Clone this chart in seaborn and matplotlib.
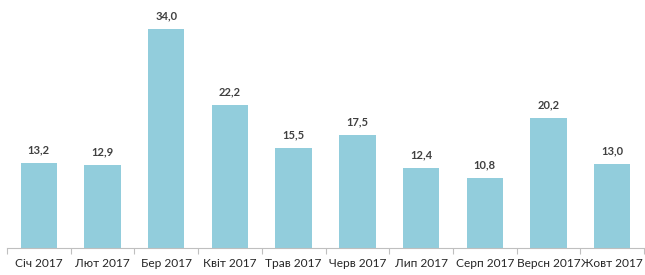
import matplotlib
matplotlib.use("Agg")
import matplotlib.pyplot as plt
import seaborn as sns
import pandas as pd
import numpy as np

categories = ["Січ 2017", "Лют 2017", "Бер 2017", "Квіт 2017", "Трав 2017",
              "Черв 2017", "Лип 2017", "Серп 2017", "Версн 2017", "Жовт 2017"]
values = [13.2, 12.9, 34.0, 22.2, 15.5, 17.5, 12.4, 10.8, 20.2, 13.0]

sns.set_theme(style="white")
plt.rcParams['font.family'] = ['Lato', 'DejaVu Sans']

df = pd.DataFrame({"cat": categories, "val": values})

fig = plt.figure(figsize=(6.45, 2.75), dpi=100)
ax = fig.add_axes([7/645, 1 - 248/275, 637/645, 248/275])
sns.barplot(data=df, x="cat", y="val", color="#92CDDC", width=0.57,
            saturation=1, ax=ax, edgecolor="none")

ax.set_ylim(0, 38.5)
ax.set_xlim(-0.5, len(categories) - 0.5)
for i, v in enumerate(values):
    ax.text(i, v + 1.2, f"{v:.1f}".replace(".", ","), ha="center", va="bottom",
            fontsize=8, color="#404040", fontweight="bold")

for s in ["top", "right", "left"]:
    ax.spines[s].set_visible(False)
ax.spines["bottom"].set_color("#BFBFBF")
ax.spines["bottom"].set_linewidth(0.8)
ax.set_yticks([])
ax.set_xlabel("")
ax.set_ylabel("")
ax.tick_params(axis="x", which="major", bottom=True, length=0, labelsize=8.6,
               colors="#262626", pad=7)
ax.set_xticks(np.arange(-0.5, len(categories) + 0.5, 1), minor=True)
ax.tick_params(axis="x", which="minor", bottom=True, length=4, width=0.8,
               color="#BFBFBF", direction="out")

fig.savefig("out.png", dpi=100)
